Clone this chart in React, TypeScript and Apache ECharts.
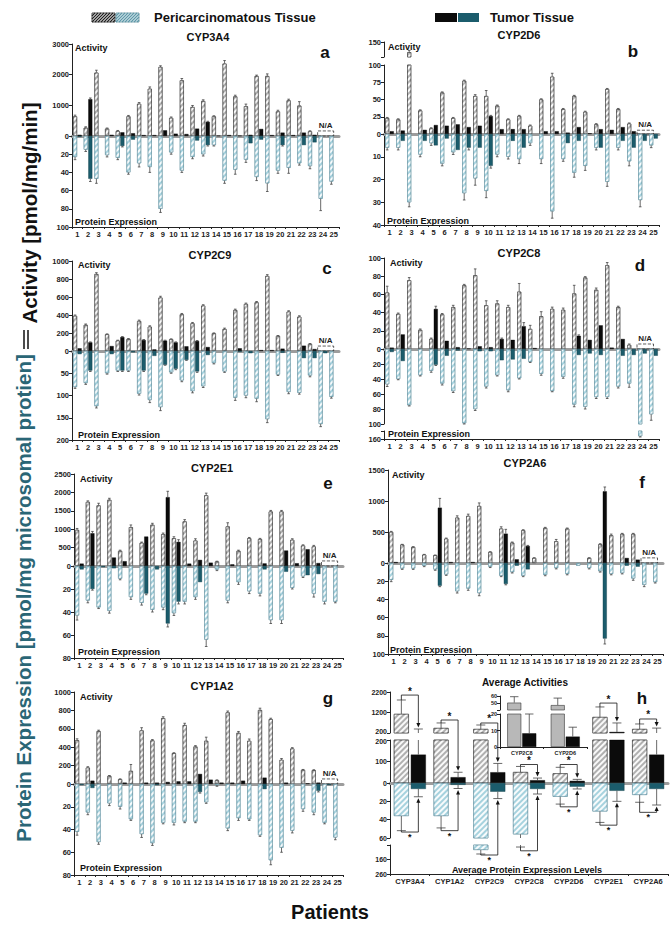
import React, { useEffect, useRef } from "react";
import * as echarts from "echarts";

const FONT = "'Liberation Sans', Arial, Helvetica, sans-serif";

// ---------------- categories ----------------
const patients = ["1","2","3","4","5","6","7","8","9","10","11","12","13","14","15","16","17","18","19","20","21","22","23","24","25"];
const avgCats = ["CYP3A4","CYP1A2","CYP2C9","CYP2C8","CYP2D6","CYP2E1","CYP2A6"];
const insetCats = ["CYP2C8","CYP2D6"];
const naPatients = ["24","25"];

// ---------------- a: CYP3A4 ----------------
const cyp3a4PeriAct = [640,270,2065,240,160,640,1050,1540,2250,590,1815,945,1140,640,2360,1290,970,1955,1955,800,1160,990,150,null,null];
const cyp3a4PeriActErr = [40,30,80,20,20,30,40,60,40,30,60,50,40,20,100,40,70,30,70,40,40,130,20,0,0];
const cyp3a4TumAct = [40,1200,0,40,120,90,30,30,185,75,65,240,460,10,30,10,40,230,30,110,30,110,40,null,null];
const cyp3a4TumActErr = [0,40,0,0,0,0,0,0,0,0,0,0,20,0,0,0,0,0,0,0,0,0,0,0,0];
const cyp3a4PeriProt = [23,15,47,21,24,40,30,34,80,18,38,23,20,10,49,37,26,45,52,38,35,30,33,69,50];
const cyp3a4PeriProtErr = [3,2,5,2,2,2,4,6,4,2,2,2,2,1,3,5,3,4,9,3,6,2,3,13,3];
const cyp3a4TumProt = [1,47,0,0,11,4,0,0,0,0,0,5,10,0,0,0,8,4,0,10,0,10,7,0,0];
const cyp3a4TumProtErr = [0,3,0,0,1,0,0,0,0,0,0,0,1,0,0,0,0,0,0,1,0,0,0,0,0];

// ---------------- b: CYP2D6 ----------------
const cyp2d6PeriAct = [23,21,133,34,8,60,23,77,55,55,41,21,26,12,50,83,36,55,32,14,65,36,15,null,null];
const cyp2d6PeriActErr = [1,1,3,1,1,1,1,1,2,8,1,1,1,1,1,5,1,1,1,1,1,1,1,0,0];
const cyp2d6TumAct = [4,5,0,6,13,12,14,10,12,26,7,7,7,0,4,4,2,10,1,7,6,10,4,null,null];
const cyp2d6TumActErr = [0,0,0,0,0,0,0,0,0,1,0,0,0,0,0,0,0,0,0,0,0,0,0,0,0];
const cyp2d6PeriProt = [6,6,30,9,4,13,8,26,19.5,25,9,10,11,4,11,34,11,17,14,6,21,6,12,29,5];
const cyp2d6PeriProtErr = [1,1,2,1,1,1,1,3,3,3,1,1,2,1,2,3,1,2,2,1,2,1,2,3,1];
const cyp2d6TumProt = [0,3,0,3,5,2,7,6,6,14,0,3,6,0,0,0,4,3,0,6,0,3,6,3,2];
const cyp2d6TumProtErr = [0,0,0,0,0,0,0,1,0,1,0,0,0,0,0,0,0,0,0,0,0,0,0,0,0];

// ---------------- c: CYP2C9 ----------------
const cyp2c9PeriAct = [390,290,855,185,115,133,333,270,593,130,407,307,504,196,244,455,522,540,833,167,437,381,78,null,null];
const cyp2c9PeriActErr = [10,10,15,5,5,5,10,10,15,5,10,10,10,5,10,10,10,10,15,5,10,10,5,0,0];
const cyp2c9TumAct = [30,96,0,55,155,0,122,18,115,96,52,111,44,0,0,30,0,10,10,26,0,59,22,null,null];
const cyp2c9TumActErr = [0,5,0,0,5,0,5,0,5,5,0,5,0,0,0,0,0,0,0,0,0,0,0,0,0];
const cyp2c9PeriProt = [81,72,124,50,44,44,96,110,126,48,66,90,79,27,46,105,100,107,153,53,92,94,55,164,103];
const cyp2c9PeriProtErr = [3,3,4,2,2,2,3,6,8,2,3,4,3,2,2,6,5,7,8,2,4,3,3,6,3];
const cyp2c9TumProt = [7,44,0,7,44,3,44,11,31,40,20,46,9,0,0,2,5,0,0,4,0,16,16,5,0];
const cyp2c9TumProtErr = [0,2,0,0,2,0,2,0,1,2,1,2,0,0,0,0,0,0,0,0,0,0,0,0,0];

// ---------------- d: CYP2C8 ----------------
const cyp2c8PeriAct = [62,38.5,75.5,21,11,38,46,70,81,48,50,46,63,22,36,44,43,61,78.5,65,92,46,4.5,null,null];
const cyp2c8PeriActErr = [7,1,3,1,1,1,2,1,7,5,3,2,9,4,5,2,2,9,1,2,3,1,1,0,0];
const cyp2c8TumAct = [1.5,16,0,0,44,9,2,0.5,3,2,11,10,25,1,0,0,0,14.5,10,26,1.5,11,0,null,null];
const cyp2c8TumActErr = [0,0,0,0,3,0,0,0,0,0,1,0,4,0,0,0,0,1,0,0,0,0,0,0,0];
const cyp2c8PeriProt = [47,40,75,35,29,46,56,99,80,50,35,55,39,17,33,56,37,74,77,64,64,50,46,153,87];
const cyp2c8PeriProtErr = [3,1,1,1,2,2,2,1,2,2,1,2,1,1,2,1,2,3,3,2,2,2,5,2,8];
const cyp2c8TumProt = [4,16,0,0,21,9,2,0,3,3,15,14,13,0,0,0,0,8,6,8,0,9,8,6,9];
const cyp2c8TumProtErr = [0,0,0,0,1,0,0,0,0,0,0,0,0,0,0,0,0,0,0,0,0,0,0,0,0];

// ---------------- e: CYP2E1 ----------------
const cyp2e1PeriAct = [980,1740,1645,1800,410,1055,630,1120,865,755,1210,690,1920,120,1075,410,755,730,1480,1480,710,555,530,null,null];
const cyp2e1PeriActErr = [40,30,60,40,20,60,20,40,30,40,50,50,60,10,100,20,20,20,30,30,30,20,30,0,0];
const cyp2e1TumAct = [65,890,0,230,130,0,800,0,1870,655,65,165,90,0,45,0,0,70,0,420,75,455,80,null,null];
const cyp2e1TumActErr = [0,50,0,0,0,0,0,0,160,60,0,0,0,0,0,0,0,0,0,0,0,0,0,0,0];
const cyp2e1PeriProt = [43,30,36,39,11,27,32,38,36,41,31,27,64,3,30,14,22,24,47,47,19,9,24,31,31];
const cyp2e1PeriProtErr = [4,2,1,2,1,2,2,2,2,2,2,2,6,1,2,2,2,2,3,3,1,1,3,2,1];
const cyp2e1TumProt = [3,20,1,2,0,0,24,3,50,31,0,14,0,0,0,0,0,3,0,5,0,8,7,0,0];
const cyp2e1TumProtErr = [0,1,0,0,0,0,1,0,3,2,0,0,0,0,0,0,0,0,0,0,0,0,0,0,0];

// ---------------- f: CYP2A6 ----------------
const cyp2a6PeriAct = [500,296,258,134,124,392,731,758,919,177,554,328,527,80,565,350,554,0,80,301,446,468,468,null,null];
const cyp2a6PeriActErr = [10,5,5,5,5,10,30,30,50,5,30,10,10,5,10,30,10,0,5,10,20,10,10,0,0];
const cyp2a6TumAct = [15,0,0,0,892,15,0,15,0,0,473,59,274,0,0,0,0,0,0,1156,0,81,54,null,null];
const cyp2a6TumActErr = [0,0,0,0,150,0,0,0,0,0,70,0,10,0,0,0,0,0,0,70,0,0,0,0,0];
const cyp2a6PeriProt = [18.5,6,6,3,7,12.6,31,28,33,4,14,10,14,0,13,5.5,12,3,5.5,9,12,11,17,24,21];
const cyp2a6PeriProtErr = [2,1,1,1,1,1,2,2,3,1,1,1,1,0,1,1,1,0,1,1,1,1,2,2,1];
const cyp2a6TumProt = [0,0,0,0,25,0,0,0,0,0,23,3,7,0,0,0,0,0,0,83,0,3,4,0,0];
const cyp2a6TumProtErr = [0,0,0,0,1,0,0,0,0,0,1,0,0,0,0,0,0,0,0,6,0,0,0,0,0];

// ---------------- g: CYP1A2 ----------------
const cyp1a2PeriAct = [476,178,575,87,51,142,582,473,716,335,640,407,469,40,778,556,469,804,705,262,385,153,150,null,null];
const cyp1a2PeriActErr = [15,10,10,5,5,70,30,10,15,5,20,10,40,5,15,15,20,20,10,15,10,5,5,0,0];
const cyp1a2TumAct = [0,36,0,0,15,0,15,15,22,29,29,109,47,15,15,36,0,69,0,15,0,7,15,null,null];
const cyp1a2TumActErr = [0,0,0,0,0,0,0,0,0,0,0,0,0,0,0,0,0,0,0,0,0,0,0,0,0];
const cyp1a2PeriProt = [42,25,51,17,20,31,44,52,34,34,33,33,16,1,39,30,31,45,67,56,41,22,25,34,47];
const cyp1a2PeriProtErr = [3,2,2,2,2,1,3,2,1,2,1,1,1,1,2,2,1,1,4,4,2,2,2,1,2];
const cyp1a2TumProt = [1,3.5,0,0,0,0,0,1,0,0,0,7,0,0,0,0,0,4.5,0,0,0,0,6,1,0];
const cyp1a2TumProtErr = [0,0,0,0,0,0,0,0,0,0,0,1,0,0,0,0,0,0,0,0,0,0,1,0,0];

// ---------------- h: averages ----------------
const avgPeriAct = [1130,444,395,51,45,980,395];
const avgPeriActErr = [680,246,195,26,28,490,245];
const avgTumAct = [132,27,50,13,10,250,132];
const avgTumActErr = [263,23,41,10,7,440,308];
const avgPeriProt = [36,36,94,56,15,31,13];
const avgPeriProtErr = [16,13,28,18,8,12,8];
const avgTumProt = [6.5,2,9.5,6.5,4,8.5,6.5];
const avgTumProtErr = [8.5,4,7.5,5.5,2.5,11.5,17.5];
const avgActSigLevel = [2050,834,688,86,86,1660,883];
const avgProtSigLevel = [53.5,52,129,100,26,46,32];
const insetPeriAct = [50.5,47];
const insetPeriActErr = [8.5,10];
const insetTumAct = [8.3,6.3];
const insetTumActErr = [11.7,5.7];

// ---------------- styles ----------------
const TEAL = "#1b5c6c";
const hatch = (color: string) => ({ symbol: "rect", symbolSize: 1, dashArrayX: [1, 0], dashArrayY: [1.1, 1.9], rotation: -Math.PI / 4, color });
const ST: any = {
  periAct: { color: "#b0b0b0", borderColor: "#4a4a4a", borderWidth: 0.6, decal: hatch("rgba(255,255,255,0.92)") },
  tumAct: { color: "#0b0b0b", borderColor: "#000", borderWidth: 0.4 },
  periProt: { color: "#a6d2de", borderColor: "#6f9ba8", borderWidth: 0.6, decal: hatch("rgba(255,255,255,0.92)") },
  tumProt: { color: TEAL, borderColor: "#103c47", borderWidth: 0.4 },
  insetPeri: { color: "#b8b8b8", borderColor: "#333", borderWidth: 0.6 },
  insetTum: { color: "#0b0b0b", borderColor: "#000", borderWidth: 0.4 },
};

// ---------------- panel layouts ----------------
const panels: any[] = [
  { id: "a", title: "CYP3A4", left: 72, width: 267, barW: 4, gap: 0.6, cats: patients, na: true,
    act: [{ top: 44, height: 92, min: 0, max: 3000, interval: 1000 }],
    prot: [{ top: 136, height: 91, min: 0, max: 100, interval: 20, hideMin: true }],
    pa: cyp3a4PeriAct, pae: cyp3a4PeriActErr, ta: cyp3a4TumAct, tae: cyp3a4TumActErr,
    pp: cyp3a4PeriProt, ppe: cyp3a4PeriProtErr, tp: cyp3a4TumProt, tpe: cyp3a4TumProtErr,
    tx: 208, ty: 37, lx: 325, ly: 52, ax: 75, ay: 48, px: 75, py: 222 },
  { id: "b", title: "CYP2D6", left: 384, width: 275, barW: 4, gap: 0.6, cats: patients, na: true,
    act: [{ top: 42, height: 15, min: 125, max: 150, interval: 25, hideMin: true }, { top: 65, height: 69, min: 0, max: 100, interval: 25 }],
    prot: [{ top: 134, height: 91, min: 0, max: 40, interval: 10, hideMin: true }],
    pa: cyp2d6PeriAct, pae: cyp2d6PeriActErr, ta: cyp2d6TumAct, tae: cyp2d6TumActErr,
    pp: cyp2d6PeriProt, ppe: cyp2d6PeriProtErr, tp: cyp2d6TumProt, tpe: cyp2d6TumProtErr,
    tx: 519, ty: 35, lx: 633, ly: 51, ax: 388, ay: 47, px: 387, py: 221 },
  { id: "c", title: "CYP2C9", left: 72, width: 267, barW: 4, gap: 0.6, cats: patients, na: true,
    act: [{ top: 261, height: 90, min: 0, max: 1000, interval: 200 }],
    prot: [{ top: 351, height: 89, min: 0, max: 200, interval: 50, hideMin: true }],
    pa: cyp2c9PeriAct, pae: cyp2c9PeriActErr, ta: cyp2c9TumAct, tae: cyp2c9TumActErr,
    pp: cyp2c9PeriProt, ppe: cyp2c9PeriProtErr, tp: cyp2c9TumProt, tpe: cyp2c9TumProtErr,
    tx: 210, ty: 255, lx: 327, ly: 268, ax: 78, ay: 265, px: 78, py: 435 },
  { id: "d", title: "CYP2C8", left: 384, width: 275, barW: 4, gap: 0.6, cats: patients, na: true,
    act: [{ top: 258, height: 91, min: 0, max: 100, interval: 20 }],
    prot: [{ top: 349, height: 75, min: 0, max: 100, interval: 20, hideMin: true }, { top: 431, height: 8, min: 140, max: 160, interval: 20, hideMin: true }],
    pa: cyp2c8PeriAct, pae: cyp2c8PeriActErr, ta: cyp2c8TumAct, tae: cyp2c8TumActErr,
    pp: cyp2c8PeriProt, ppe: cyp2c8PeriProtErr, tp: cyp2c8TumProt, tpe: cyp2c8TumProtErr,
    tx: 519, ty: 253, lx: 640, ly: 265, ax: 390, ay: 263, px: 388, py: 434 },
  { id: "e", title: "CYP2E1", left: 74, width: 269, barW: 4, gap: 0.6, cats: patients, na: true,
    act: [{ top: 474, height: 92, min: 0, max: 2500, interval: 500 }],
    prot: [{ top: 566, height: 92, min: 0, max: 80, interval: 20, hideMin: true }],
    pa: cyp2e1PeriAct, pae: cyp2e1PeriActErr, ta: cyp2e1TumAct, tae: cyp2e1TumActErr,
    pp: cyp2e1PeriProt, ppe: cyp2e1PeriProtErr, tp: cyp2e1TumProt, tpe: cyp2e1TumProtErr,
    tx: 212, ty: 468, lx: 328, ly: 483, ax: 80, ay: 479, px: 78, py: 652 },
  { id: "f", title: "CYP2A6", left: 388, width: 275, barW: 4, gap: 0.6, cats: patients, na: true,
    act: [{ top: 470, height: 93, min: 0, max: 1500, interval: 500 }],
    prot: [{ top: 563, height: 91, min: 0, max: 100, interval: 20, hideMin: true }],
    pa: cyp2a6PeriAct, pae: cyp2a6PeriActErr, ta: cyp2a6TumAct, tae: cyp2a6TumActErr,
    pp: cyp2a6PeriProt, ppe: cyp2a6PeriProtErr, tp: cyp2a6TumProt, tpe: cyp2a6TumProtErr,
    tx: 525, ty: 463, lx: 642, ly: 482, ax: 392, ay: 475, px: 390, py: 650 },
  { id: "g", title: "CYP1A2", left: 74, width: 269, barW: 4, gap: 0.6, cats: patients, na: true,
    act: [{ top: 692, height: 92, min: 0, max: 1000, interval: 200 }],
    prot: [{ top: 784, height: 91, min: 0, max: 80, interval: 20, hideMin: true }],
    pa: cyp1a2PeriAct, pae: cyp1a2PeriActErr, ta: cyp1a2TumAct, tae: cyp1a2TumActErr,
    pp: cyp1a2PeriProt, ppe: cyp1a2PeriProtErr, tp: cyp1a2TumProt, tpe: cyp1a2TumProtErr,
    tx: 212, ty: 686, lx: 328, ly: 698, ax: 80, ay: 697, px: 80, py: 868 },
  { id: "h", title: "", left: 390, width: 278, barW: 15, gap: 2, cats: avgCats, na: false, ySize: 7,
    act: [{ top: 692, height: 41, min: 200, max: 2200, interval: 1000, nudgeMin: true }, { top: 740, height: 43, min: 0, max: 200, interval: 100, nudgeMax: true }],
    prot: [{ top: 783, height: 55, min: 0, max: 60, interval: 20, hideMin: true }, { top: 845, height: 29, min: 60, max: 260, interval: 100, hideMin: true }],
    pa: avgPeriAct, pae: avgPeriActErr, ta: avgTumAct, tae: avgTumActErr,
    pp: avgPeriProt, ppe: avgPeriProtErr, tp: avgTumProt, tpe: avgTumProtErr,
    tx: 0, ty: 0, lx: 642, ly: 698, ax: 0, ay: 0, px: 0, py: 0 },
];

const inset: any = { left: 500, width: 87, barW: 14, gap: 1, cats: insetCats, ySize: 5.5,
  act: [{ top: 696, height: 14, min: 40, max: 60, interval: 10, hideMin: true }, { top: 714, height: 33, min: 0, max: 20, interval: 10 }] };

function errSeries(gi: number, vals: any[], errs: number[], offset: number, seg: any, color: string, capW: number) {
  const data = vals.map((v, i) => [i, v == null ? 0 : v, v == null ? 0 : (errs[i] || 0)]);
  return {
    type: "custom", xAxisIndex: gi, yAxisIndex: gi, silent: true, z: 4,
    encode: { x: 0, y: 1 },
    data,
    renderItem: (params: any, api: any) => {
      const i = api.value(0), v = api.value(1), e = api.value(2);
      const empty = { type: "group", children: [] };
      if (!e) return empty;
      const top = v + e;
      const lo = Math.max(v, seg.min), hi = Math.min(top, seg.max);
      if (hi <= lo) return empty;
      const p1 = api.coord([i, lo]);
      const p2 = api.coord([i, hi]);
      const x = p1[0] + offset;
      const children: any[] = [{ type: "line", shape: { x1: x, y1: p1[1], x2: x, y2: p2[1] }, style: { stroke: color, lineWidth: 0.8 } }];
      if (top <= seg.max) children.push({ type: "line", shape: { x1: x - capW, y1: p2[1], x2: x + capW, y2: p2[1] }, style: { stroke: color, lineWidth: 0.8 } });
      return { type: "group", children };
    },
  };
}

function buildOption() {
  const grid: any[] = [], xAxis: any[] = [], yAxis: any[] = [], series: any[] = [];
  const hRefs: any = { act: [], prot: [] };

  const addSeg = (p: any, seg: any, kind: string, flags: any, vals: any) => {
    const gi = grid.length;
    grid.push({ left: p.left, top: seg.top, width: p.width, height: seg.height });
    const xAx: any = { gridIndex: gi, type: "category", data: p.cats, position: "bottom", boundaryGap: true,
      axisLabel: { show: false }, axisTick: { show: false }, axisLine: { show: false }, splitLine: { show: false } };
    if (flags.zeroLine) xAx.axisLine = { show: true, onZero: false, lineStyle: { color: "#9c9c9c", width: 3 } };
    if (flags.labels) {
      xAx.axisLine = { show: true, onZero: false, lineStyle: { color: "#222", width: 1 } };
      xAx.axisTick = { show: true, length: 2, lineStyle: { color: "#222" } };
      xAx.axisLabel = { show: true, interval: 0, fontSize: flags.labelSize || 7.5, fontWeight: "bold", color: "#222", margin: 3, fontFamily: FONT };
    }
    xAxis.push(xAx);
    const ySize = p.ySize || 7.5;
    yAxis.push({ gridIndex: gi, type: "value", min: seg.min, max: seg.max, interval: seg.interval, inverse: kind === "prot",
      axisLine: { show: true, lineStyle: { color: "#222", width: 1 } },
      axisTick: { show: true, length: 3, lineStyle: { color: "#222" } },
      splitLine: { show: false },
      axisLabel: { fontSize: ySize, fontWeight: "bold", color: "#222", margin: 3, fontFamily: FONT,
        rich: { up: { fontSize: ySize, fontWeight: "bold", color: "#222", padding: [0, 0, 3, 0], fontFamily: FONT },
                dn: { fontSize: ySize, fontWeight: "bold", color: "#222", padding: [3, 0, 0, 0], fontFamily: FONT } },
        formatter: (v: number) => {
          if (seg.hideMin && v === seg.min) return "";
          if (seg.nudgeMin && v === seg.min) return "{up|" + v + "}";
          if (seg.nudgeMax && v === seg.max) return "{dn|" + v + "}";
          return String(v);
        } } });
    const filt = (arr: any[]) => arr.map((v) => (v == null || v === 0 || (seg.min > 0 && v <= seg.min) ? "-" : v));
    const gapPct = (p.gap / p.barW) * 100 + "%";
    const off = (p.barW + p.gap) / 2;
    const periSeries: any = { type: "bar", xAxisIndex: gi, yAxisIndex: gi, data: filt(vals.peri), barWidth: p.barW, barGap: gapPct,
      itemStyle: vals.periStyle, clip: true, silent: true, z: 2 };
    if (flags.na) {
      periSeries.markArea = { silent: true,
        itemStyle: { color: "rgba(255,255,255,0)", borderColor: "#333", borderWidth: 0.8, borderType: "dashed" },
        label: { show: true, position: "top", formatter: "N/A", fontSize: 8, fontWeight: "bold", color: "#222", distance: 1, fontFamily: FONT },
        data: [[{ xAxis: naPatients[0], yAxis: 0 }, { xAxis: naPatients[1], yAxis: seg.max * 0.055 }]] };
    }
    series.push(periSeries);
    series.push({ type: "bar", xAxisIndex: gi, yAxisIndex: gi, data: filt(vals.tum), barWidth: p.barW, barGap: gapPct,
      itemStyle: vals.tumStyle, clip: true, silent: true, z: 2 });
    const cap = Math.max(1.3, p.barW * 0.3);
    series.push(errSeries(gi, vals.peri, vals.periErr, -off, seg, "#444", cap));
    series.push(errSeries(gi, vals.tum, vals.tumErr, off, seg, "#444", cap));
    return gi;
  };

  panels.forEach((p) => {
    const isH = p.id === "h";
    p.act.forEach((seg: any, i: number) => {
      const zero = i === p.act.length - 1;
      const gi = addSeg(p, seg, "act", { zeroLine: zero, na: zero && p.na },
        { peri: p.pa, periErr: p.pae, tum: p.ta, tumErr: p.tae, periStyle: ST.periAct, tumStyle: ST.tumAct });
      if (isH) hRefs.act.push({ gi, seg });
    });
    p.prot.forEach((seg: any, i: number) => {
      const bottom = i === p.prot.length - 1;
      const gi = addSeg(p, seg, "prot", { labels: bottom },
        { peri: p.pp, periErr: p.ppe, tum: p.tp, tumErr: p.tpe, periStyle: ST.periProt, tumStyle: ST.tumProt });
      if (isH) hRefs.prot.push({ gi, seg });
    });
  });

  inset.act.forEach((seg: any, i: number) => {
    const zero = i === inset.act.length - 1;
    addSeg(inset, seg, "act", { labels: zero, labelSize: 5.5 },
      { peri: insetPeriAct, periErr: insetPeriActErr, tum: insetTumAct, tumErr: insetTumActErr, periStyle: ST.insetPeri, tumStyle: ST.insetTum });
  });

  return { option: { animation: false, backgroundColor: "#fff", grid, xAxis, yAxis, series }, hRefs };
}

function txt(text: string, x: number, y: number, size: number, opts: any = {}) {
  return { type: "text", x, y, rotation: opts.rotation || 0, z: 50,
    style: { text, x: 0, y: 0, fill: opts.color || "#111", font: `bold ${size}px ${FONT}`,
      textAlign: opts.align || "left", textVerticalAlign: "middle", verticalAlign: "middle" } };
}

function hatchLines(x: number, y: number, w: number, h: number, step: number, color: string) {
  const out: any[] = [];
  for (let t = -h; t < w; t += step) {
    const u0 = Math.max(t, 0), u1 = Math.min(t + h, w);
    if (u1 <= u0) continue;
    out.push({ type: "line", z: 50, shape: { x1: x + u0, y1: y + h - (u0 - t), x2: x + u1, y2: y + h - (u1 - t) }, style: { stroke: color, lineWidth: 1.2 } });
  }
  return out;
}

function staticGraphics() {
  const g: any[] = [];
  // legend
  g.push({ type: "rect", z: 49, shape: { x: 92, y: 13, width: 23, height: 9 }, style: { fill: "#fff", stroke: "#222", lineWidth: 0.8 } });
  g.push(...hatchLines(92, 13, 23, 9, 3, "#222"));
  g.push({ type: "rect", z: 49, shape: { x: 116, y: 13, width: 23, height: 9 }, style: { fill: "#e6f3f7", stroke: "#5f8f9d", lineWidth: 0.8 } });
  g.push(...hatchLines(116, 13, 23, 9, 3, "#5f98a8"));
  g.push(txt("Pericarcinomatous Tissue", 154, 17.5, 13));
  g.push({ type: "rect", z: 49, shape: { x: 435, y: 13, width: 22, height: 9 }, style: { fill: "#0b0b0b" } });
  g.push({ type: "rect", z: 49, shape: { x: 458, y: 13, width: 21, height: 9 }, style: { fill: TEAL } });
  g.push(txt("Tumor Tissue", 490, 17.5, 13));
  // panel texts
  panels.forEach((p) => {
    if (p.title) g.push(txt(p.title, p.tx, p.ty, 11, { align: "center" }));
    g.push(txt(p.id, p.lx, p.ly, 17, { align: "center" }));
    if (p.id !== "h") {
      g.push(txt("Activity", p.ax, p.ay, 9));
      g.push(txt("Protein Expression", p.px, p.py, 9));
    }
  });
  g.push(txt("Average Activities", 525, 682, 10, { align: "center" }));
  g.push(txt("Average Protein Expression Levels", 527, 870, 9, { align: "center" }));
  // big axis titles
  g.push(txt("Activity [pmol/mg/min]", 29, 213, 20.5, { align: "center", rotation: Math.PI / 2 }));
  g.push({ type: "line", z: 50, shape: { x1: 24, y1: 330, x2: 24, y2: 349 }, style: { stroke: "#111", lineWidth: 1.5 } });
  g.push({ type: "line", z: 50, shape: { x1: 28, y1: 330, x2: 28, y2: 349 }, style: { stroke: "#111", lineWidth: 1.5 } });
  g.push(txt("Protein Expression [pmol/mg microsomal protien]", 23, 598, 20.5, { align: "center", rotation: Math.PI / 2, color: "#2a6676" }));
  g.push(txt("Patients", 330, 912, 20, { align: "center" }));
  return g;
}

function pickPix(chart: any, refs: any[], k: number, v: number) {
  let r = refs.find((r: any) => v >= r.seg.min && v <= r.seg.max);
  if (!r) r = refs.reduce((a: any, b: any) => (Math.abs(b.seg.min - v) < Math.abs(a.seg.min - v) ? b : a));
  return chart.convertToPixel({ gridIndex: r.gi }, [k, v]);
}

function bracketGraphics(chart: any, hRefs: any) {
  const g: any[] = [];
  const hp = panels.find((p) => p.id === "h");
  const off = (hp.barW + hp.gap) / 2;
  const stroke = { stroke: "#111", lineWidth: 0.8, fill: null };
  avgCats.forEach((c, k) => {
    // activity bracket (above)
    const pc = pickPix(chart, hRefs.act, k, avgPeriAct[k]);
    const xC = pc[0], xP = xC - off, xT = xC + off;
    const yP = pickPix(chart, hRefs.act, k, avgPeriAct[k] + avgPeriActErr[k])[1];
    const yL = pickPix(chart, hRefs.act, k, avgActSigLevel[k])[1];
    const yT = pickPix(chart, hRefs.act, k, avgTumAct[k] + avgTumActErr[k])[1];
    g.push({ type: "polyline", z: 60, shape: { points: [[xP, yP], [xP, yL], [xT, yL], [xT, yT - 5]] }, style: stroke });
    g.push({ type: "polygon", z: 60, shape: { points: [[xT - 2, yT - 6], [xT + 2, yT - 6], [xT, yT - 1.5]] }, style: { fill: "#111" } });
    g.push(txt("*", xC, yL - 4, 10, { align: "center" }));
    // protein bracket (below)
    const qP = pickPix(chart, hRefs.prot, k, avgPeriProt[k] + avgPeriProtErr[k])[1];
    const qL = pickPix(chart, hRefs.prot, k, avgProtSigLevel[k])[1];
    const qT = pickPix(chart, hRefs.prot, k, avgTumProt[k] + avgTumProtErr[k])[1];
    g.push({ type: "polyline", z: 60, shape: { points: [[xP, qP], [xP, qL], [xT, qL], [xT, qT + 5]] }, style: stroke });
    g.push({ type: "polygon", z: 60, shape: { points: [[xT - 2, qT + 6], [xT + 2, qT + 6], [xT, qT + 1.5]] }, style: { fill: "#111" } });
    g.push(txt("*", xC, qL + 5, 9, { align: "center" }));
  });
  return g;
}

export default function App() {
  const ref = useRef<HTMLDivElement>(null);
  useEffect(() => {
    const el = ref.current as HTMLDivElement;
    const chart = echarts.init(el, null, { renderer: "svg", width: 672, height: 928 });
    const { option, hRefs } = buildOption();
    chart.setOption(option as any);
    const extra = bracketGraphics(chart, hRefs);
    chart.setOption({ graphic: { elements: [...staticGraphics(), ...extra] } } as any);
    return () => chart.dispose();
  }, []);
  return <div ref={ref} style={{ position: "absolute", left: 0, top: 0, width: 672, height: 928, background: "#fff" }} />;
}
